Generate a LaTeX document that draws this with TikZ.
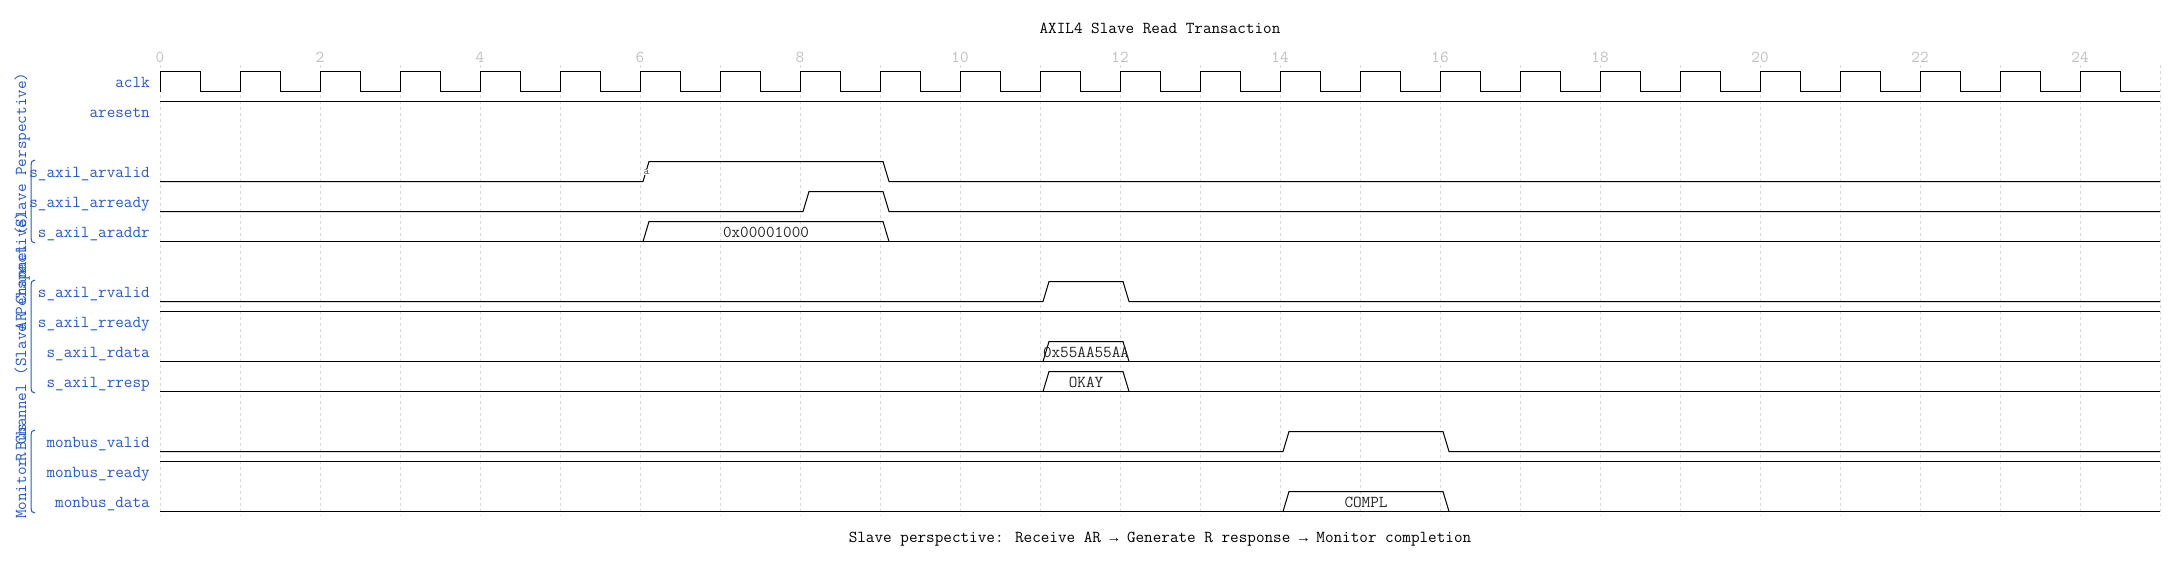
\documentclass[tikz,border=0pt]{standalone}
\usepackage{fontspec}
\newfontfamily\arrowfont{Liberation Mono}
\definecolor{sigblue}{RGB}{35,90,205}
\newcommand{\wavesize}{\ttfamily\fontsize{16.7}{18}\selectfont}
\newcommand{\then}{{\arrowfont\fontsize{14.6}{16}\selectfont →}}

\begin{document}
\begin{tikzpicture}[x=1pt,y=-1pt,
  wave/.style={line width=1pt,black},
  gridln/.style={gray!30,line width=0.7pt,dash pattern=on 3pt off 3pt},
  sig/.style={anchor=base east,inner sep=0pt,text=sigblue,font=\wavesize},
  grp/.style={anchor=base,rotate=90,inner sep=0pt,text=sigblue,font=\wavesize},
  brace/.style={sigblue,line width=1pt},
  tick/.style={anchor=base,inner sep=0pt,text=gray!50,font=\wavesize},
  busval/.style={anchor=base,inner sep=0pt,text=black!85,font=\wavesize},
  plain/.style={anchor=base,inner sep=0pt,font=\wavesize}]
\useasboundingbox (0,0) rectangle (2180,562);
\node[plain] (title) at (1160,34) {AXIL4 Slave Read Transaction};
% time grid
\foreach \t in {0,...,25} { \draw[gridln] (160+80*\t,65) -- (160+80*\t,516); }
\foreach \t in {0,2,...,24} { \node[tick] (tick\t) at (160+80*\t,62) {\t}; }
% signal names
\foreach \r/\name in {0/aclk,1/aresetn,3/s\_axil\_arvalid,4/s\_axil\_arready,5/s\_axil\_araddr,
    7/s\_axil\_rvalid,8/s\_axil\_rready,9/s\_axil\_rdata,10/s\_axil\_rresp,
    12/monbus\_valid,13/monbus\_ready,14/monbus\_data} {
  \node[sig] (lbl\r) at (150,{87.5+30*\r}) {\name};
}
% groups
\foreach \c/\txt in {201.5/AR Channel (Slave Perspective),336.5/R Channel (Slave Perspective),471.5/Monitor Bus} {
  \node[grp] (grp\c) at (26,\c) {\txt};
}
\foreach \ya/\yb in {160/243,280/393,430/513} {
  \draw[brace] (35,\ya) .. controls (32,\ya) and (31,\ya+2) .. (31,\ya+5) -- (31,\yb-5)
    .. controls (31,\yb-2) and (32,\yb) .. (35,\yb);
}
% clock
\draw[wave] (160,91.5) \foreach \t in {0,...,24} { -- (160+80*\t,71.5) -- (200+80*\t,71.5)
  -- (200+80*\t,91.5) -- (240+80*\t,91.5) };
% constant high
\foreach \r in {1,8,13} { \draw[wave] (160,{71.5+30*\r}) -- (2160,{71.5+30*\r}); }
% pulses
\foreach \r/\a/\b in {3/6/9,4/8/9,7/11/12,12/14/16} {
  \pgfmathsetmacro{\yt}{71.5+30*\r}
  \pgfmathsetmacro{\yl}{\yt+20}
  \pgfmathsetmacro{\xa}{160+80*\a}
  \pgfmathsetmacro{\xb}{160+80*\b}
  \draw[wave] (160,\yl) -- (\xa+3,\yl) -- (\xa+9,\yt) -- (\xb+3,\yt) -- (\xb+9,\yl) -- (2160,\yl);
}
% buses
\foreach \r/\a/\b/\v in {5/6/9/0x00001000,9/11/12/0x55AA55AA,10/11/12/OKAY,14/14/16/COMPL} {
  \pgfmathsetmacro{\yt}{71.5+30*\r}
  \pgfmathsetmacro{\yl}{\yt+20}
  \pgfmathsetmacro{\xa}{160+80*\a}
  \pgfmathsetmacro{\xb}{160+80*\b}
  \draw[wave] (160,\yl) -- (2160,\yl);
  \draw[wave] (\xa+3,\yl) -- (\xa+9,\yt) -- (\xb+3,\yt) -- (\xb+9,\yl);
  \node[busval] (val\r) at ({(\xa+\xb)/2+6},\yt+15.5) {\v};
}
\node[fill=white,inner sep=0.4pt,text=black!70,font=\ttfamily\fontsize{11}{12}\selectfont] (nodea) at (646.5,172) {a};
\node[plain] (caption) at (1160,542) {Slave perspective: Receive AR \then{} Generate R response \then{} Monitor completion};
\end{tikzpicture}
\end{document}
